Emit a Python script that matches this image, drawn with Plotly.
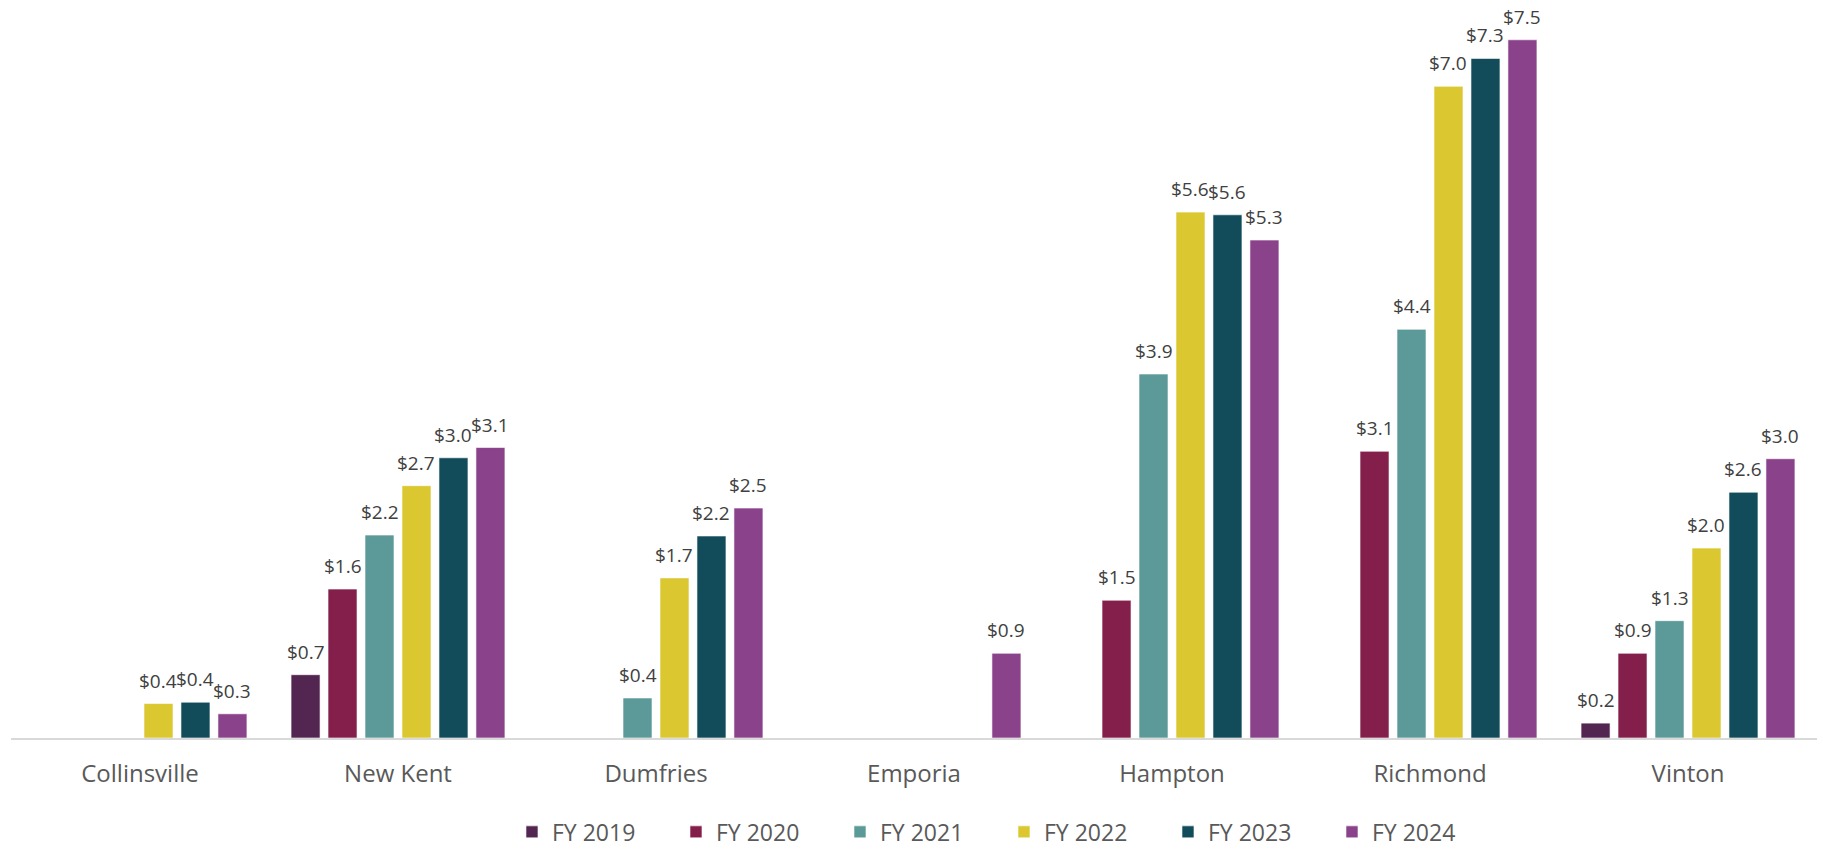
import plotly.graph_objects as go

categories = ["Collinsville", "New Kent", "Dumfries", "Emporia", "Hampton", "Richmond", "Vinton"]
series_names = ["FY 2019", "FY 2020", "FY 2021", "FY 2022", "FY 2023", "FY 2024"]

fy2019 = [None, 0.68, None, None, None, None, 0.16]
fy2020 = [None, 1.60, None, None, 1.48, 3.08, 0.91]
fy2021 = [None, 2.18, 0.43, None, 3.91, 4.39, 1.26]
fy2022 = [0.37, 2.71, 1.72, None, 5.649, 7.00, 2.04]
fy2023 = [0.385, 3.01, 2.17, None, 5.62, 7.30, 2.64]
fy2024 = [0.26, 3.12, 2.47, 0.91, 5.349, 7.50, 3.00]

series_values = [fy2019, fy2020, fy2021, fy2022, fy2023, fy2024]
colors = ["#532551", "#841E4A", "#5B9A99", "#DBC72F", "#124C5B", "#8A428A"]

W, H = 1823, 849
ML, MR, MT, MB = 11, 6, 10, 111
BARGAP = 0.14
n_series = len(series_names)
cat_px = (W - ML - MR) / len(categories)
pitch = cat_px * (1 - BARGAP) / n_series

fig = go.Figure()
annotations = []
for i, (name, vals, col) in enumerate(zip(series_names, series_values, colors)):
    fig.add_trace(go.Bar(
        x=categories, y=vals, name=name,
        marker=dict(color=col, line=dict(color="rgba(255,255,255,0.6)", width=1)),
    ))
    for cat, v in zip(categories, vals):
        if v is None:
            continue
        annotations.append(dict(
            x=cat, y=v, xref="x", yref="y", text=f"${v:.1f}", showarrow=False,
            xanchor="center", yanchor="bottom", xshift=(i - (n_series - 1) / 2) * pitch,
            yshift=8, font=dict(family="Open Sans", size=19, color="#404040"),
        ))

fig.update_layout(
    width=W, height=H,
    paper_bgcolor="white", plot_bgcolor="white",
    margin=dict(l=ML, r=MR, t=MT, b=MB, autoexpand=False),
    barmode="group", bargap=BARGAP, bargroupgap=0.216,
    font=dict(family="Open Sans", color="#595959"),
    showlegend=True,
    annotations=annotations,
    legend=dict(orientation="h", x=0.2774, xanchor="left", y=-0.129, yanchor="middle",
                font=dict(family="Open Sans", size=23, color="#595959"),
                entrywidth=119, traceorder="normal"),
    xaxis=dict(showline=True, linecolor="#D9D9D9", linewidth=2, ticks="",
               tickfont=dict(family="Open Sans", size=24, color="#595959"),
               ticklabelstandoff=13, showgrid=False),
    yaxis=dict(range=[0, 7.82], visible=False, showgrid=False, zeroline=False),
)

fig.write_html("out.html", config={"displayModeBar": False},
               post_script="document.body.style.margin='0';")
